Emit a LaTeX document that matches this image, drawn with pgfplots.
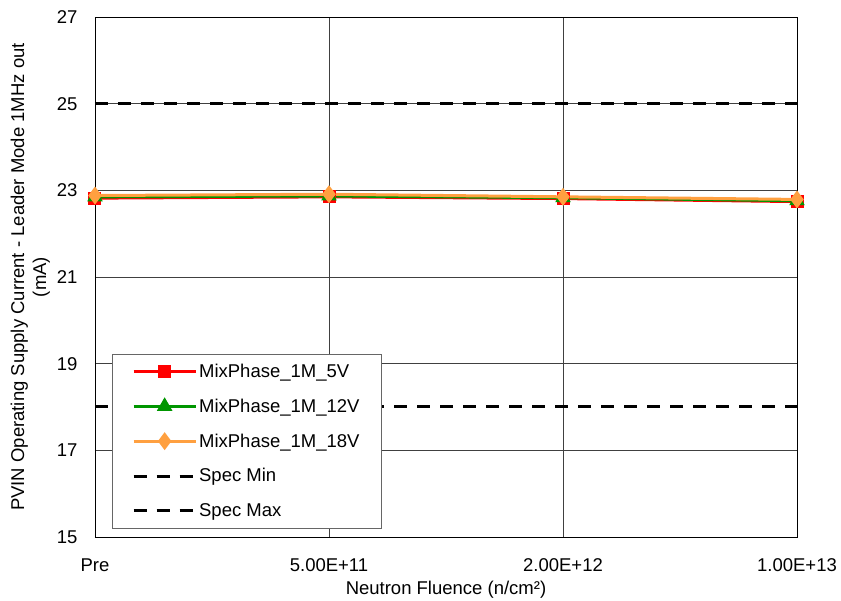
\documentclass[border=0pt]{standalone}
\usepackage{fontspec}
\setmainfont{Liberation Sans}
\usepackage{pgfplots}
\pgfplotsset{compat=1.18}
\definecolor{cred}{RGB}{255,0,0}
\definecolor{cgreen}{RGB}{0,150,0}
\definecolor{corange}{RGB}{255,160,64}
\begin{document}
\begin{tikzpicture}[font=\fontsize{18.5bp}{22bp}\selectfont]
\begin{axis}[
  scale only axis, width=702bp, height=520bp,
  xmin=0, xmax=3, ymin=15, ymax=27,
  xtick={0,1,2,3}, xticklabels={Pre,5.00E+11,2.00E+12,1.00E+13},
  ytick={15,17,19,21,23,25,27},
  grid=major, major grid style={black!75, line width=0.6pt},
  axis line style={black, line width=0.8pt},
  tick style={draw=none},
  /pgf/number format/assume math mode=true,
  xticklabel style={yshift=-18bp},
  yticklabel style={xshift=-14bp},
  xlabel={Neutron Fluence (n/cm²)},
  ylabel={PVIN Operating Supply Current - Leader Mode 1MHz out\\(mA)},
  ylabel style={align=center, yshift=0bp},
  xlabel style={yshift=-3bp},
  legend style={at={(0.024,0.017)}, anchor=south west, draw=black!60, line width=0.6pt,
    fill=white, font=\fontsize{18.5bp}{22bp}\selectfont, row sep=16bp, inner xsep=20bp, inner ysep=8bp,
    cells={anchor=west}},
  legend image code/.code={\draw[#1, line width=3bp, mark repeat=2, mark phase=2] plot coordinates {(0bp,0bp) (31bp,0bp) (62bp,0bp)};},
]
\addplot[cred, line width=3bp, mark=square*, mark size=5bp, mark options={solid}]
  coordinates {(0,22.82) (1,22.85) (2,22.81) (3,22.74)};
\addlegendentry{MixPhase\_1M\_5V}
\addplot[cgreen, line width=3bp, mark=triangle*, mark size=6bp, mark options={solid}]
  coordinates {(0,22.85) (1,22.87) (2,22.83) (3,22.76)};
\addlegendentry{MixPhase\_1M\_12V}
\addplot[corange, line width=3bp, mark=diamond*, mark size=6.5bp, mark options={solid}]
  coordinates {(0,22.88) (1,22.91) (2,22.85) (3,22.79)};
\addlegendentry{MixPhase\_1M\_18V}
\addplot[black, line width=3bp, dash pattern=on 13bp off 10bp]
  coordinates {(0,18) (1,18) (2,18) (3,18)};
\addlegendentry{Spec Min}
\addplot[black, line width=3bp, dash pattern=on 13bp off 10bp]
  coordinates {(0,25) (1,25) (2,25) (3,25)};
\addlegendentry{Spec Max}
\end{axis}
\pgfresetboundingbox
\path ([shift={(-95bp,-64bp)}]current axis.south west) rectangle ([shift={(44bp,17bp)}]current axis.north east);
\end{tikzpicture}
\end{document}
